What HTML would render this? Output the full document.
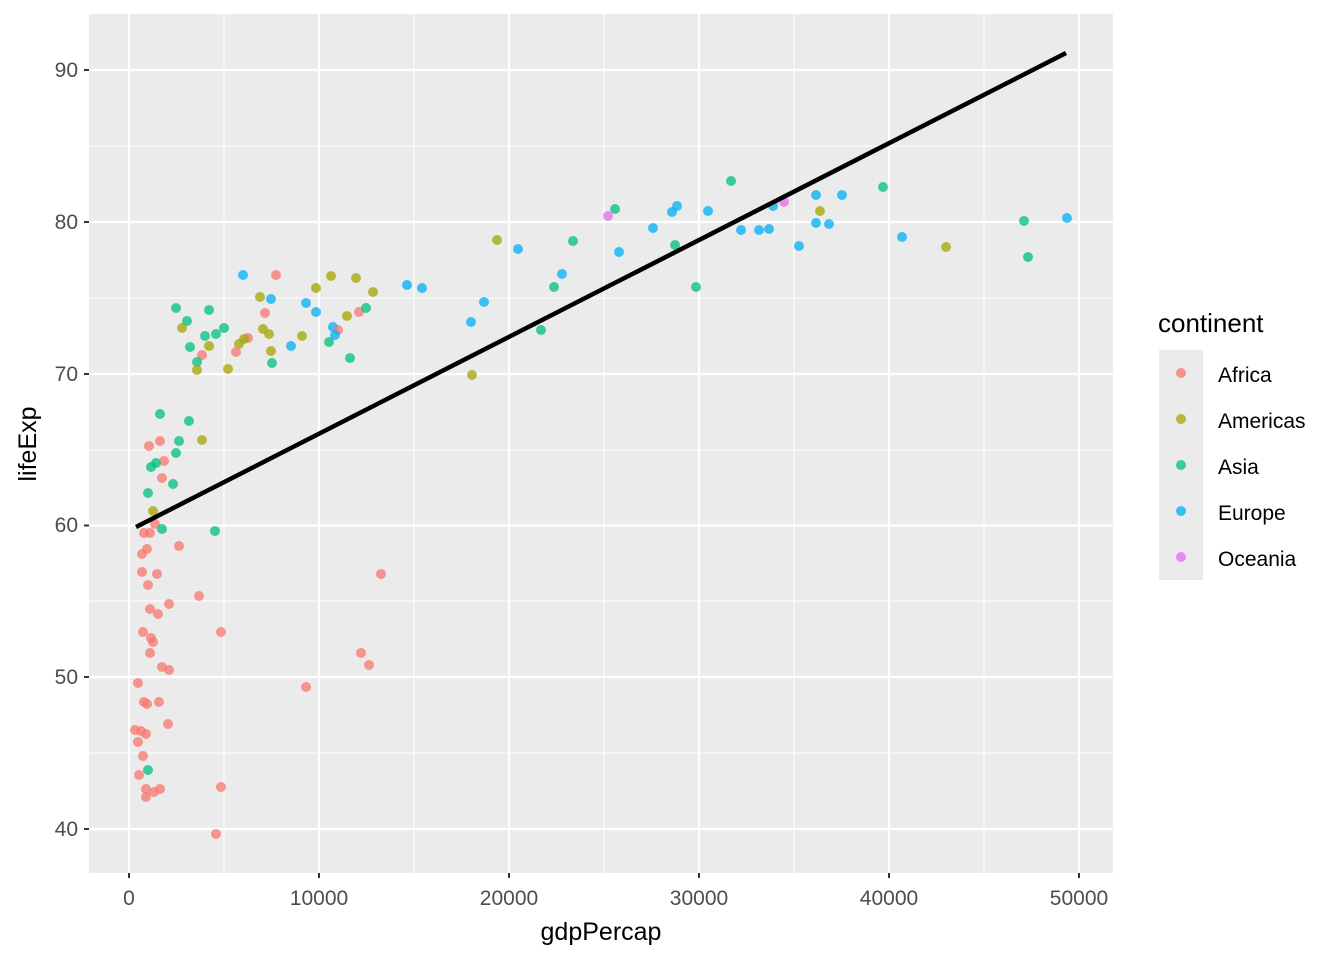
<!DOCTYPE html>
<html><head><meta charset="utf-8"><style>
body{margin:0;background:#fff;}
svg{display:block;font-family:"Liberation Sans",Arial,sans-serif;}
</style></head><body>
<svg id="s" width="1344" height="960" viewBox="0 0 1344 960">
<rect x="89" y="14" width="1024" height="859" fill="#EBEBEB"/>
<g stroke="#fff" stroke-width="1.1">
<line x1="224" y1="14" x2="224" y2="873"/><line x1="414" y1="14" x2="414" y2="873"/><line x1="604" y1="14" x2="604" y2="873"/><line x1="794" y1="14" x2="794" y2="873"/><line x1="984" y1="14" x2="984" y2="873"/>
<line x1="89" y1="146" x2="1113" y2="146"/><line x1="89" y1="298" x2="1113" y2="298"/><line x1="89" y1="450" x2="1113" y2="450"/><line x1="89" y1="601" x2="1113" y2="601"/><line x1="89" y1="753" x2="1113" y2="753"/>
</g>
<g stroke="#fff" stroke-width="2.2">
<line x1="129" y1="14" x2="129" y2="873"/><line x1="319" y1="14" x2="319" y2="873"/><line x1="509" y1="14" x2="509" y2="873"/><line x1="699" y1="14" x2="699" y2="873"/><line x1="889" y1="14" x2="889" y2="873"/><line x1="1079" y1="14" x2="1079" y2="873"/>
<line x1="89" y1="70" x2="1113" y2="70"/><line x1="89" y1="222" x2="1113" y2="222"/><line x1="89" y1="374" x2="1113" y2="374"/><line x1="89" y1="525.5" x2="1113" y2="525.5"/><line x1="89" y1="677" x2="1113" y2="677"/><line x1="89" y1="829" x2="1113" y2="829"/>
</g>
<g stroke="#333" stroke-width="2">
<line x1="129" y1="873" x2="129" y2="878"/><line x1="319" y1="873" x2="319" y2="878"/><line x1="509" y1="873" x2="509" y2="878"/><line x1="699" y1="873" x2="699" y2="878"/><line x1="889" y1="873" x2="889" y2="878"/><line x1="1079" y1="873" x2="1079" y2="878"/>
<line x1="84" y1="70" x2="89" y2="70"/><line x1="84" y1="222" x2="89" y2="222"/><line x1="84" y1="374" x2="89" y2="374"/><line x1="84" y1="525.5" x2="89" y2="525.5"/><line x1="84" y1="677" x2="89" y2="677"/><line x1="84" y1="829" x2="89" y2="829"/>
</g>
<g fill="#4D4D4D" font-size="21" text-anchor="middle">
<text x="129" y="905">0</text><text x="319" y="905">10000</text><text x="509" y="905">20000</text><text x="699" y="905">30000</text><text x="889" y="905">40000</text><text x="1079" y="905">50000</text>
</g>
<g fill="#4D4D4D" font-size="21" text-anchor="end">
<text x="78" y="77">90</text><text x="78" y="229">80</text><text x="78" y="381">70</text><text x="78" y="532">60</text><text x="78" y="684">50</text><text x="78" y="836">40</text>
</g>
<text x="601" y="940" font-size="25" text-anchor="middle" fill="#000">gdpPercap</text>
<text transform="translate(36,444) rotate(-90)" font-size="25" text-anchor="middle" fill="#000">lifeExp</text>
<g id="pts" fill-opacity="0.75"></g>
<line x1="136" y1="527" x2="1066" y2="53" stroke="#000" stroke-width="4.5"/>
<text x="1158" y="332" font-size="26" fill="#000">continent</text>
<rect x="1159" y="350" width="44" height="230" fill="#EBEBEB"/>
<g fill-opacity="0.75">
<circle cx="1181" cy="373" r="5" fill="#F8766D"/><circle cx="1181" cy="419" r="5" fill="#A3A500"/><circle cx="1181" cy="465" r="5" fill="#00BF7D"/><circle cx="1181" cy="511" r="5" fill="#00B0F6"/><circle cx="1181" cy="557" r="5" fill="#E76BF3"/>
</g>
<g font-size="21" fill="#000">
<text x="1218" y="382">Africa</text><text x="1218" y="428">Americas</text><text x="1218" y="474">Asia</text><text x="1218" y="520">Europe</text><text x="1218" y="566">Oceania</text>
</g>
</svg>
<script>
var C={r:"#F8766D",o:"#A3A500",t:"#00BF7D",b:"#00B0F6",m:"#E76BF3"};
var P="b243,275 r276,275 o331,276 o356,278 o316,288 o373,292 o260,297 b271,299 b306,303 t176,308 t209,310 b316,312 r265,313 o347,316 r359,312 t366,308 t187,321 o182,328 t224,328 o263,329 b333,327 r338,330 t205,336 t216,334 o269,334 o302,336 b335,335 r248,338 o244,339 o239,344 t329,342 t190,347 o209,346 b291,346 o271,351 r236,352 r202,355 t197,362 t272,363 t350,358 o197,370 o228,369 t160,414 t189,421 r149,446 r160,441 t179,441 o202,440 t176,453 r164,461 t156,463 t151,467 r162,478 t173,484 t148,493 o153,511 r155,524 t162,529 r144,533 r150,533 t215,531 r179,546 r147,549 r142,554 r142,572 r157,574 r381,574 r148,585 r199,596 r169,604 r150,609 r158,614 r143,632 r221,632 r151,638 r153,642 r150,653 r361,653 r369,665 r162,667 r169,670 r138,683 r306,687 r144,702 r147,704 r159,702 r168,724 r135,730 r141,731 r146,734 r138,742 r143,756 t148,770 r139,775 r146,789 r154,792 r160,789 r146,797 r221,787 r216,834 b471,322 b484,302 b407,285 b422,288 b518,249 b562,274 b619,252 b653,228 b672,212 b677,206 b708,211 b741,230 b759,230 b769,229 b773,206 b799,246 b816,195 b816,223 b829,224 b842,195 b902,237 b1067,218 o497,240 o472,375 o820,211 o946,247 t554,287 t541,330 t573,241 t615,209 t675,245 t696,287 t731,181 t883,187 t1024,221 t1028,257 m608,216 m784,202".split(" ");
var g=document.getElementById("pts"),h="";
P.forEach(function(s){var c=C[s[0]],xy=s.slice(1).split(",");h+='<circle cx="'+xy[0]+'" cy="'+xy[1]+'" r="5" fill="'+c+'"/>';});
g.innerHTML=h;
</script>
</body></html>
